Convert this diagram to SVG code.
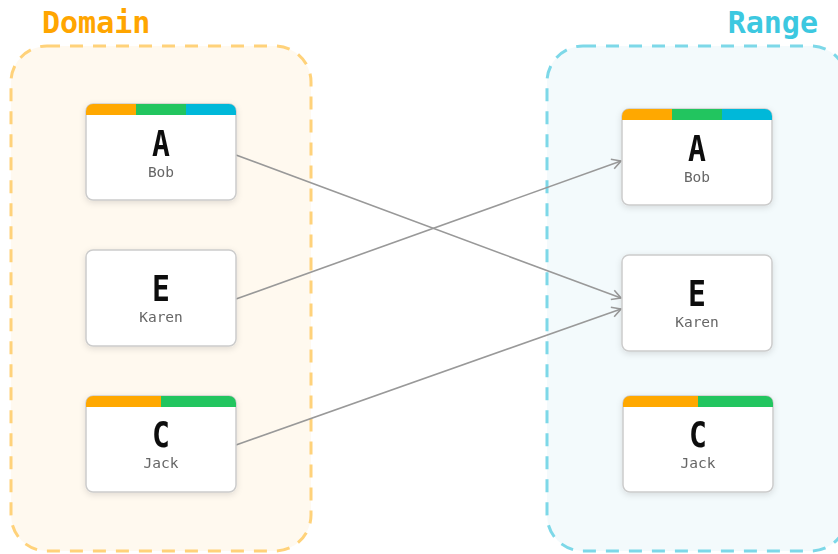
<svg xmlns="http://www.w3.org/2000/svg" width="838" height="554" viewBox="0 0 838 554">
<defs>
<filter id="sh" x="-20%" y="-20%" width="140%" height="150%"><feDropShadow dx="0" dy="2" stdDeviation="3" flood-color="#000" flood-opacity="0.12"/></filter>
<marker id="ar" markerWidth="12" markerHeight="12" refX="10" refY="6" orient="auto" markerUnits="userSpaceOnUse"><path d="M1,1 L10,6 L1,11" fill="none" stroke="#999" stroke-width="1.6"/></marker>
<clipPath id="c1"><rect x="0" y="0" width="150" height="96" rx="7"/></clipPath>
</defs>
<style>
.title{font-family:"DejaVu Sans Mono","Liberation Mono",monospace;font-weight:bold;font-size:30px}
.card{fill:#fff;stroke:#ccc;stroke-width:1.5}
.big{font-family:"DejaVu Sans Mono","Liberation Mono",monospace;font-weight:bold;font-size:35px;fill:#111;text-anchor:middle}
.sub{font-family:"DejaVu Sans Mono","Liberation Mono",monospace;font-size:14.5px;fill:#666;text-anchor:middle}
.edge{stroke:#999;stroke-width:1.6;fill:none;marker-end:url(#ar)}
</style>
<rect width="838" height="554" fill="#fff"/>
<g id="domain">
<rect x="11" y="46" width="300" height="505" rx="36" fill="#FFF9EF" stroke="#FFD27A" stroke-width="3" stroke-dasharray="13 10"/>
<text class="title" x="42" y="33" fill="#FFA500">Domain</text>
</g>
<g id="range">
<rect x="547" y="46" width="300" height="505" rx="36" fill="#F3FAFC" stroke="#7DD8E8" stroke-width="3" stroke-dasharray="13 10"/>
<text class="title" x="818" y="33" fill="#3CC8E0" text-anchor="end">Range</text>
</g>
<g id="connectors">
<line class="edge" x1="236" y1="155" x2="621" y2="298"/>
<line class="edge" x1="236" y1="299" x2="621" y2="161"/>
<line class="edge" x1="236" y1="445" x2="621" y2="309"/>
</g>
<g id="dA" transform="translate(86,104)" filter="url(#sh)">
<rect class="card" width="150" height="96" rx="7"/>
<g clip-path="url(#c1)"><rect width="50" height="11" fill="#FFA800"/><rect x="50" width="50" height="11" fill="#22C55E"/><rect x="100" width="50" height="11" fill="#00B8D9"/></g>
<text class="big" x="75" y="52" transform="translate(75,0) scale(0.85,1) translate(-75,0)">A</text><text class="sub" x="75" y="73">Bob</text>
</g>
<g id="dE" transform="translate(86,250)" filter="url(#sh)">
<rect class="card" width="150" height="96" rx="7"/>
<text class="big" x="75" y="51" transform="translate(75,0) scale(0.85,1) translate(-75,0)">E</text><text class="sub" x="75" y="72">Karen</text>
</g>
<g id="dC" transform="translate(86,396)" filter="url(#sh)">
<rect class="card" width="150" height="96" rx="7"/>
<g clip-path="url(#c1)"><rect width="75" height="11" fill="#FFA800"/><rect x="75" width="75" height="11" fill="#22C55E"/></g>
<text class="big" x="75" y="51" transform="translate(75,0) scale(0.85,1) translate(-75,0)">C</text><text class="sub" x="75" y="72">Jack</text>
</g>
<g id="rA" transform="translate(622,109)" filter="url(#sh)">
<rect class="card" width="150" height="96" rx="7"/>
<g clip-path="url(#c1)"><rect width="50" height="11" fill="#FFA800"/><rect x="50" width="50" height="11" fill="#22C55E"/><rect x="100" width="50" height="11" fill="#00B8D9"/></g>
<text class="big" x="75" y="52" transform="translate(75,0) scale(0.85,1) translate(-75,0)">A</text><text class="sub" x="75" y="73">Bob</text>
</g>
<g id="rE" transform="translate(622,255)" filter="url(#sh)">
<rect class="card" width="150" height="96" rx="7"/>
<text class="big" x="75" y="51" transform="translate(75,0) scale(0.85,1) translate(-75,0)">E</text><text class="sub" x="75" y="72">Karen</text>
</g>
<g id="rC" transform="translate(623,396)" filter="url(#sh)">
<rect class="card" width="150" height="96" rx="7"/>
<g clip-path="url(#c1)"><rect width="75" height="11" fill="#FFA800"/><rect x="75" width="75" height="11" fill="#22C55E"/></g>
<text class="big" x="75" y="51" transform="translate(75,0) scale(0.85,1) translate(-75,0)">C</text><text class="sub" x="75" y="72">Jack</text>
</g>
</svg>
